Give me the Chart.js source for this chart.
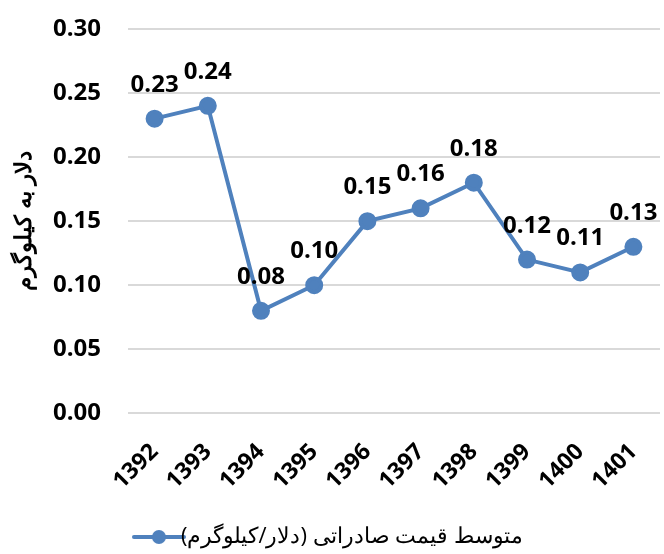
<!DOCTYPE html>
<html>
<head>
<meta charset="utf-8">
<script src="https://cdn.jsdelivr.net/npm/chart.js@4/dist/chart.umd.min.js"></script>
<style>
  html, body { margin: 0; padding: 0; background: #fff; }
  #wrap { width: 664px; height: 554px; }
</style>
</head>
<body>
<div id="wrap"><canvas id="chart1"></canvas></div>
<script>
// years (solar calendar) and average export price, dollars per kg
const years = ["1392", "1393", "1394", "1395", "1396", "1397", "1398", "1399", "1400", "1401"];
const prices = [0.23, 0.24, 0.08, 0.10, 0.15, 0.16, 0.18, 0.12, 0.11, 0.13];
const yTicks = [0, 0.05, 0.10, 0.15, 0.20, 0.25, 0.30];

const seriesName = "متوسط قیمت صادراتی (دلار/کیلوگرم)";
const axisTitle = "دلار به کیلوگرم";
const blue = "#4f81bd";
const font = "'Open Sans'";

// little line-with-dot marker for the legend
function legendMarker() {
  const c = document.createElement("canvas");
  c.width = 54; c.height = 16;
  const g = c.getContext("2d");
  g.strokeStyle = blue;
  g.lineWidth = 4;
  g.lineCap = "round";
  g.beginPath(); g.moveTo(2, 8); g.lineTo(52, 8); g.stroke();
  g.fillStyle = blue;
  g.beginPath(); g.arc(27, 8, 7, 0, Math.PI * 2); g.fill();
  return c;
}

// value labels above each point
const valueLabels = {
  id: "valueLabels",
  afterDatasetsDraw(chart) {
    const ctx = chart.ctx;
    const meta = chart.getDatasetMeta(0);
    ctx.save();
    ctx.font = "bold 24px " + font;
    ctx.fillStyle = "#000";
    ctx.textAlign = "center";
    ctx.textBaseline = "alphabetic";
    meta.data.forEach((pt, i) => {
      ctx.fillText(prices[i].toFixed(2), pt.x, pt.y - 27);
    });
    ctx.restore();
  }
};

window.onload = () => {
  const marker = legendMarker();
  new Chart(document.getElementById("chart1"), {
    type: "line",
    data: {
      labels: years,
      datasets: [{
        label: seriesName,
        data: prices,
        borderColor: blue,
        backgroundColor: blue,
        borderWidth: 4,
        pointRadius: 7,
        pointHoverRadius: 7,
        tension: 0
      }]
    },
    options: {
      responsive: true,
      maintainAspectRatio: false,
      animation: false,
      layout: { autoPadding: false, padding: { top: 29, right: 4, left: 11, bottom: -4 } },
      scales: {
        x: {
          offset: true,
          grid: { display: false, offset: true },
          border: { display: false },
          afterFit(axis) { axis.paddingLeft = 0; axis.paddingRight = 0; },
          ticks: {
            color: "#000",
            font: { family: font, size: 23, weight: "bold" },
            minRotation: 45,
            maxRotation: 45,
            padding: 17
          }
        },
        y: {
          min: 0,
          max: 0.30,
          afterBuildTicks(axis) { axis.ticks = yTicks.map(v => ({ value: v })); },
          afterFit(axis) { axis.width = 117; axis.paddingTop = 0; axis.paddingBottom = 0; },
          grid: { color: "#d9d9d9", lineWidth: 2, drawTicks: false },
          border: { display: false },
          ticks: {
            color: "#000",
            font: { family: font, size: 24, weight: "bold" },
            padding: 27,
            callback: v => v.toFixed(2)
          },
          title: {
            display: true,
            text: axisTitle,
            color: "#000",
            font: { family: font, size: 23, weight: "600" },
            padding: { top: 0, bottom: 6 }
          }
        }
      },
      plugins: {
        legend: {
          position: "bottom",
          textDirection: "rtl",
          labels: {
            color: "#000",
            font: { family: font, size: 22 },
            usePointStyle: true,
            padding: 14,
            generateLabels(chart) {
              return [{
                text: seriesName,
                pointStyle: marker,
                fillStyle: blue,
                strokeStyle: blue,
                lineWidth: 0,
                datasetIndex: 0
              }];
            }
          }
        },
        tooltip: { enabled: false }
      }
    },
    plugins: [valueLabels]
  });
};
</script>
</body>
</html>
